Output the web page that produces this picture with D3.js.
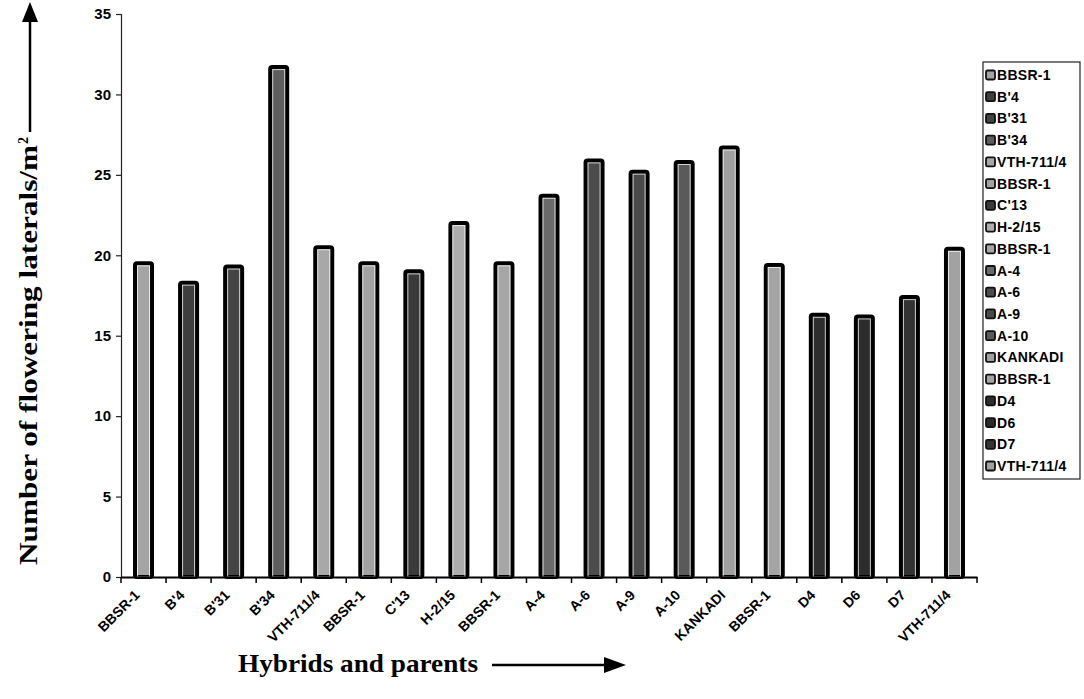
<!DOCTYPE html>
<html>
<head>
<meta charset="utf-8">
<script src="https://cdn.jsdelivr.net/npm/d3@7"></script>
<style>
  html, body { margin: 0; padding: 0; background: #fff; }
  svg { display: block; }
</style>
</head>
<body>
<svg id="chart" width="1084" height="699"></svg>
<script>
const categories = ["BBSR-1", "B'4", "B'31", "B'34", "VTH-711/4", "BBSR-1", "C'13", "H-2/15", "BBSR-1",
  "A-4", "A-6", "A-9", "A-10", "KANKADI", "BBSR-1", "D4", "D6", "D7", "VTH-711/4"];
const values = [19.5, 18.3, 19.3, 31.7, 20.5, 19.5, 19.0, 22.0, 19.5,
  23.7, 25.9, 25.2, 25.8, 26.7, 19.4, 16.3, 16.2, 17.4, 20.4];
const yTicks = [0, 5, 10, 15, 20, 25, 30, 35];
const legendLabels = ["BBSR-1", "B'4", "B'31", "B'34", "VTH-711/4", "BBSR-1", "C'13", "H-2/15", "BBSR-1",
  "A-4", "A-6", "A-9", "A-10", "KANKADI", "BBSR-1", "D4", "D6", "D7", "VTH-711/4"];
// fill shade per series (style)
const fills = ["#a4a4a4", "#3e3e3e", "#444444", "#5e5e5e", "#a8a8a8", "#a2a2a2", "#3a3a3a", "#adadad", "#a6a6a6",
  "#6a6a6a", "#4c4c4c", "#4a4a4a", "#5a5a5a", "#a0a0a0", "#a4a4a4", "#2e2e2e", "#2c2c2c", "#333333", "#a2a2a2"];

const svg = d3.select("#chart");
const idx = d3.range(categories.length);

const x = d3.scaleBand().domain(idx).range([121, 977]).paddingInner(0).paddingOuter(0);
const y = d3.scaleLinear().domain([0, 35]).range([577, 14]);

// Y axis
const yAxis = d3.axisLeft(y).tickValues(yTicks).tickSize(5).tickPadding(5).tickFormat(d3.format("d"));
const gy = svg.append("g").attr("transform", "translate(121,0)").call(yAxis);
gy.select(".domain").attr("stroke", "#222").attr("stroke-width", 1.2);
gy.selectAll(".tick line").attr("stroke", "#222").attr("stroke-width", 1.2);
gy.selectAll(".tick text")
  .attr("font-family", "Liberation Sans, Arial, sans-serif")
  .attr("font-weight", "bold").attr("font-size", 15).attr("fill", "#000");

// Bars
const bw = 17;
const bars = svg.append("g");
bars.selectAll("rect.bar").data(idx).enter().append("rect")
  .attr("class", "bar")
  .attr("x", i => x(i) + x.bandwidth() / 2 - bw / 2)
  .attr("y", i => y(values[i]))
  .attr("width", bw)
  .attr("height", i => y(0) - y(values[i]))
  .attr("rx", 2)
  .attr("fill", i => fills[i])
  .attr("stroke", "#000")
  .attr("stroke-width", 4);
bars.selectAll("rect.rim").data(idx).enter().append("rect")
  .attr("class", "rim")
  .attr("x", i => x(i) + x.bandwidth() / 2 - bw / 2 + 2.5)
  .attr("y", i => y(values[i]) + 2.5)
  .attr("width", bw - 5)
  .attr("height", i => Math.max(0, y(0) - y(values[i]) - 2.5))
  .attr("fill", "none")
  .attr("stroke", "#fff")
  .attr("stroke-opacity", 0.75)
  .attr("stroke-width", 1);

// X axis
const xAxis = d3.axisBottom(x).tickSize(0).tickFormat(() => "");
const gx = svg.append("g").attr("transform", "translate(0,577)").call(xAxis);
gx.select(".domain").attr("stroke", "#000").attr("stroke-width", 2);
svg.append("g").selectAll("line").data(d3.range(categories.length + 1)).enter().append("line")
  .attr("x1", i => x.range()[0] + i * x.step())
  .attr("x2", i => x.range()[0] + i * x.step())
  .attr("y1", 577).attr("y2", 583)
  .attr("stroke", "#000").attr("stroke-width", 1.5);
svg.append("g").selectAll("text").data(idx).enter().append("text")
  .attr("transform", i => `translate(${x(i) + x.bandwidth() / 2 - 3},596) rotate(-45)`)
  .attr("text-anchor", "end")
  .attr("font-family", "Liberation Sans, Arial, sans-serif")
  .attr("font-weight", "bold").attr("font-size", 14)
  .text(i => categories[i]);

// Y title
svg.append("text")
  .attr("transform", "translate(37,565) rotate(-90)")
  .attr("font-family", "Liberation Serif, Times New Roman, serif")
  .attr("font-weight", "bold").attr("font-size", 25)
  .attr("textLength", 420).attr("lengthAdjust", "spacingAndGlyphs")
  .text("Number of flowering laterals/m");
svg.append("text")
  .attr("transform", "translate(28,144) rotate(-90)")
  .attr("font-family", "Liberation Serif, Times New Roman, serif")
  .attr("font-weight", "bold").attr("font-size", 14)
  .text("2");
svg.append("line").attr("x1", 30).attr("x2", 30).attr("y1", 132).attr("y2", 18)
  .attr("stroke", "#000").attr("stroke-width", 2.5);
svg.append("path").attr("d", "M30,2 L22,22 L38,22 Z").attr("fill", "#000");

// X title
svg.append("text")
  .attr("x", 238).attr("y", 672)
  .attr("font-family", "Liberation Serif, Times New Roman, serif")
  .attr("font-weight", "bold").attr("font-size", 26)
  .attr("textLength", 240).attr("lengthAdjust", "spacingAndGlyphs")
  .text("Hybrids and parents");
svg.append("line").attr("x1", 492).attr("x2", 608).attr("y1", 665).attr("y2", 665)
  .attr("stroke", "#000").attr("stroke-width", 2.5);
svg.append("path").attr("d", "M626,665 L604,657 L604,673 Z").attr("fill", "#000");

// Legend
const lg = svg.append("g");
lg.append("rect").attr("x", 983).attr("y", 62).attr("width", 97).attr("height", 417)
  .attr("fill", "#fff").attr("stroke", "#222").attr("stroke-width", 1.2);
const ly = d3.scalePoint().domain(idx).range([75, 466]);
lg.selectAll("rect.sw").data(idx).enter().append("rect")
  .attr("class", "sw")
  .attr("x", 986).attr("y", i => ly(i) - 4.5)
  .attr("width", 9).attr("height", 9).attr("rx", 1.5)
  .attr("fill", i => fills[i]).attr("stroke", "#111").attr("stroke-width", 1.8);
lg.selectAll("text").data(idx).enter().append("text")
  .attr("x", 997).attr("y", i => ly(i) + 5)
  .attr("font-family", "Liberation Sans, Arial, sans-serif")
  .attr("font-weight", "bold").attr("font-size", 14)
  .attr("letter-spacing", 0.3)
  .text(i => legendLabels[i]);
</script>
</body>
</html>
